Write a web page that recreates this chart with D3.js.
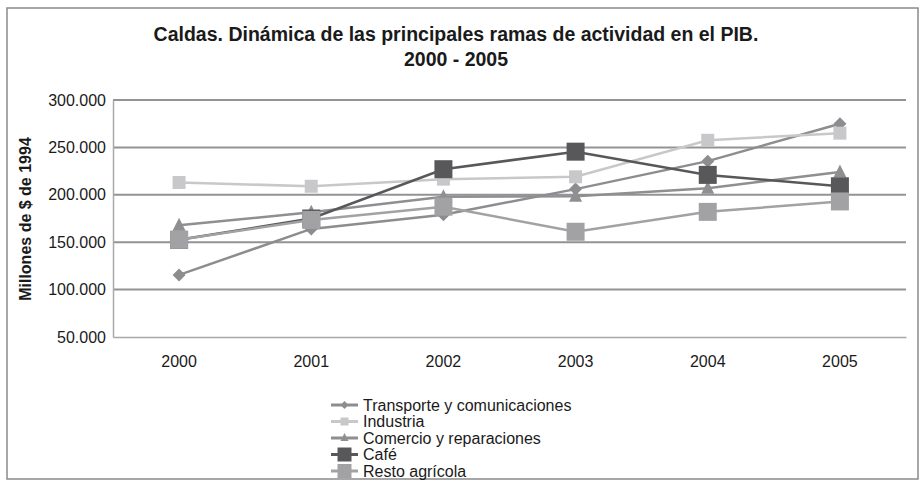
<!DOCTYPE html>
<html>
<head>
<meta charset="utf-8">
<script src="https://cdn.jsdelivr.net/npm/d3@7"></script>
<style>
  body { margin: 0; background: #fff; }
  text { font-family: "Liberation Sans", Arial, sans-serif; fill: #1a1a1a; }
</style>
</head>
<body>
<svg id="chart" width="920" height="489"></svg>
<script>
// Data (millones de $ de 1994)
const years = ["2000", "2001", "2002", "2003", "2004", "2005"];
const transporte = [115500, 164000, 179000, 206000, 235500, 275000];
const industria = [213000, 209000, 216500, 219000, 257500, 265000];
const comercio = [168000, 181500, 198000, 198500, 207000, 224000];
const cafe = [152500, 175000, 227000, 245500, 221000, 209000];
const resto = [152500, 173500, 187500, 161000, 182000, 193000];
const yTicks = [50000, 100000, 150000, 200000, 250000, 300000];

const series = [
  { name: "Transporte y comunicaciones", values: transporte, color: "#8d8d90", marker: "diamond", size: 13, legendSize: 8 },
  { name: "Industria", values: industria, color: "#c8c8ca", marker: "square", size: 13, legendSize: 8 },
  { name: "Comercio y reparaciones", values: comercio, color: "#8f8f92", marker: "triangle", size: 13, legendSize: 8 },
  { name: "Café", values: cafe, color: "#58585b", marker: "square", size: 18, legendSize: 14 },
  { name: "Resto agrícola", values: resto, color: "#a2a2a5", marker: "square", size: 18, legendSize: 14 }
];

const svg = d3.select("#chart");
const plotLeft = 113, plotRight = 906, plotTop = 100, plotBottom = 337;

const x = d3.scaleBand().domain(years).range([plotLeft, plotRight]);
const y = d3.scaleLinear().domain([50000, 300000]).range([plotBottom, plotTop]);

const locale = d3.formatLocale({ decimal: ",", thousands: ".", grouping: [3], currency: ["$", ""] });
const tickFmt = v => locale.format(",")(v / 1000) + ".000";

// outer frame
svg.append("rect")
  .attr("x", 7).attr("y", 8)
  .attr("width", 911).attr("height", 471)
  .attr("fill", "none")
  .attr("stroke", "#8a8a8a")
  .attr("stroke-width", 1.5);

// title
svg.append("text")
  .attr("x", 456).attr("y", 41)
  .attr("text-anchor", "middle")
  .style("font-size", "19.5px").style("font-weight", "bold")
  .text("Caldas. Dinámica de las principales ramas de actividad en el PIB.");
svg.append("text")
  .attr("x", 456).attr("y", 66)
  .attr("text-anchor", "middle")
  .style("font-size", "19.5px").style("font-weight", "bold")
  .text("2000 - 2005");

// gridlines
svg.append("g")
  .selectAll("line")
  .data(yTicks.filter(d => d > 50000))
  .enter()
  .append("line")
  .attr("x1", plotLeft).attr("x2", plotRight)
  .attr("y1", d => y(d)).attr("y2", d => y(d))
  .attr("stroke", "#939396")
  .attr("stroke-width", 2);

// y axis
const yAxis = svg.append("g")
  .attr("transform", `translate(${plotLeft},0)`)
  .call(d3.axisLeft(y).tickValues(yTicks).tickSize(0).tickPadding(7).tickFormat(tickFmt));
yAxis.select(".domain").attr("stroke", "#a8a8a8").attr("stroke-width", 1.5);
yAxis.selectAll("text").style("font-size", "16px").style("font-family", "Liberation Sans, Arial, sans-serif").attr("fill", "#1a1a1a");

// x axis
const xAxis = svg.append("g")
  .attr("transform", `translate(0,${plotBottom})`)
  .call(d3.axisBottom(x).tickSize(0).tickPadding(19));
xAxis.select(".domain").attr("stroke", "#a8a8a8").attr("stroke-width", 1.5);
xAxis.selectAll("text").style("font-size", "16px").style("font-family", "Liberation Sans, Arial, sans-serif").attr("fill", "#1a1a1a");

// y label
svg.append("text")
  .attr("transform", "translate(31,219) rotate(-90)")
  .attr("text-anchor", "middle")
  .style("font-size", "16px").style("font-weight", "bold")
  .text("Millones de $ de 1994");

function markerPath(type, size) {
  const h = size / 2;
  if (type === "diamond") return `M0,${-h}L${h},0L0,${h}L${-h},0Z`;
  if (type === "triangle") return `M0,${-h - 1}L${h},${h - 1}L${-h},${h - 1}Z`;
  return `M${-h},${-h}H${h}V${h}H${-h}Z`;
}

const line = d3.line()
  .x((d, i) => x(years[i]) + x.bandwidth() / 2)
  .y(d => y(d));

// series
series.forEach(s => {
  const g = svg.append("g");
  g.append("path")
    .attr("d", line(s.values))
    .attr("fill", "none")
    .attr("stroke", s.color)
    .attr("stroke-width", 2.5);
  g.selectAll("path.mk")
    .data(s.values)
    .enter()
    .append("path")
    .attr("class", "mk")
    .attr("d", markerPath(s.marker, s.size))
    .attr("transform", (d, i) => `translate(${x(years[i]) + x.bandwidth() / 2},${y(d)})`)
    .attr("fill", s.color);
});

// legend
const legend = svg.append("g").attr("transform", "translate(331,405)");
const items = legend.selectAll("g")
  .data(series)
  .enter()
  .append("g")
  .attr("transform", (d, i) => `translate(0,${i * 16.5})`);
items.append("line")
  .attr("x1", 0).attr("x2", 27)
  .attr("stroke", d => d.color)
  .attr("stroke-width", 3);
items.append("path")
  .attr("d", d => markerPath(d.marker, d.legendSize))
  .attr("transform", "translate(13.5,0)")
  .attr("fill", d => d.color);
items.append("text")
  .attr("x", 32).attr("y", 5.5)
  .style("font-size", "16px")
  .text(d => d.name);
</script>
</body>
</html>
